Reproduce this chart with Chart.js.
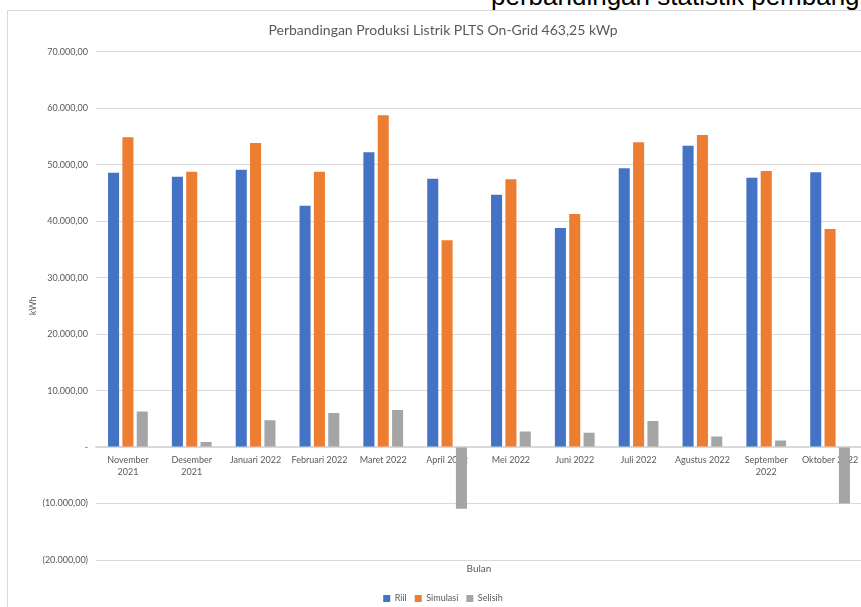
<!DOCTYPE html>
<html>
<head>
<meta charset="utf-8">
<script src="https://cdn.jsdelivr.net/npm/chart.js@4/dist/chart.umd.min.js"></script>
<style>
  html, body { margin: 0; padding: 0; overflow: hidden; background: #ffffff; width: 861px; height: 607px; }
  #frame { position: absolute; left: 7px; top: 10px; width: 862px; height: 602px; border: 1px solid #d9d9d9; background: #fff; }
  #overlay { position: absolute; left: 491px; top: -17px; font-family: "Liberation Sans", Arial, sans-serif; font-size: 26px; line-height: 26px; color: #000; white-space: nowrap; z-index: 5; }
</style>
</head>
<body>
<div id="frame"><canvas id="c" width="862" height="602"></canvas></div>
<div id="overlay">perbandingan statistik pembangkit</div>
<script>
const categories = [["November", "2021"], ["Desember", "2021"], "Januari 2022", "Februari 2022", "Maret 2022", "April 2022", "Mei 2022", "Juni 2022", "Juli 2022", "Agustus 2022", ["September", "2022"], "Oktober 2022"];
const riil = [48590, 47880, 49120, 42750, 52200, 47530, 44700, 38800, 49370, 53380, 47710, 48660];
const simulasi = [54860, 48770, 53850, 48770, 58760, 36620, 47420, 41280, 53970, 55270, 48890, 38620];
const selisih = [6300, 890, 4760, 6020, 6580, -10920, 2750, 2550, 4600, 1860, 1180, -10000];
const yTickValues = [70000, 60000, 50000, 40000, 30000, 20000, 10000, 0, -10000, -20000];
const yTickLabels = ["70.000,00", "60.000,00", "50.000,00", "40.000,00", "30.000,00", "20.000,00", "10.000,00", "-", "(10.000,00)", "(20.000,00)"];

const grey = "#595959";
const FONT = "Lato, 'Open Sans', sans-serif";

new Chart(document.getElementById("c"), {
  type: "bar",
  data: {
    labels: categories,
    datasets: [
      { label: "Riil", data: riil, backgroundColor: "#4472C4" },
      { label: "Simulasi", data: simulasi, backgroundColor: "#ED7D31" },
      { label: "Selisih", data: selisih, backgroundColor: "#A5A5A5" }
    ]
  },
  options: {
    responsive: false,
    animation: false,
    devicePixelRatio: 1,
    categoryPercentage: 0.674,
    barPercentage: 0.77,
    layout: { padding: { left: 16, right: 8, top: 0, bottom: 0 } },
    plugins: {
      title: {
        display: true,
        text: "Perbandingan Produksi Listrik PLTS On-Grid 463,25 kWp",
        color: grey,
        font: { family: FONT, size: 14, weight: "normal", lineHeight: 1.2 },
        padding: { top: 11, bottom: 13 }
      },
      legend: {
        position: "bottom",
        labels: {
          color: grey,
          font: { family: FONT, size: 9 },
          boxWidth: 7,
          boxHeight: 7,
          padding: 8
        }
      },
      tooltip: { enabled: false }
    },
    scales: {
      x: {
        type: "category",
        position: { y: 0 },
        offset: true,
        grid: { display: false, drawTicks: false, offset: true },
        border: { display: true, color: "#d9d9d9", width: 1.5 },
        ticks: {
          color: grey,
          font: { family: FONT, size: 9, lineHeight: 1.3 },
          padding: 7,
          maxRotation: 0,
          minRotation: 0,
          autoSkip: false
        }
      },
      x2: {
        type: "category",
        position: "bottom",
        offset: true,
        grid: { display: false, drawTicks: false },
        border: { display: false },
        ticks: { display: false },
        title: {
          display: true,
          text: "Bulan",
          color: grey,
          font: { family: FONT, size: 10, lineHeight: 1.2 },
          padding: { top: 3, bottom: 11 }
        }
      },
      y: {
        min: -20000,
        max: 70000,
        afterBuildTicks: (scale) => { scale.ticks = yTickValues.map(v => ({ value: v })); },
        afterFit: (scale) => { scale.width = 72; },
        grid: { color: "#d9d9d9", lineWidth: 1, drawTicks: false },
        border: { display: false },
        ticks: {
          color: grey,
          font: { family: FONT, size: 9 },
          padding: 8,
          callback: (v) => { const i = yTickValues.indexOf(v); return i >= 0 ? yTickLabels[i] : ""; }
        },
        title: {
          display: true,
          text: "kWh",
          color: grey,
          font: { family: FONT, size: 9, lineHeight: 1.2 },
          padding: { top: 4, bottom: 0 }
        }
      }
    }
  }
});
</script>
</body>
</html>
